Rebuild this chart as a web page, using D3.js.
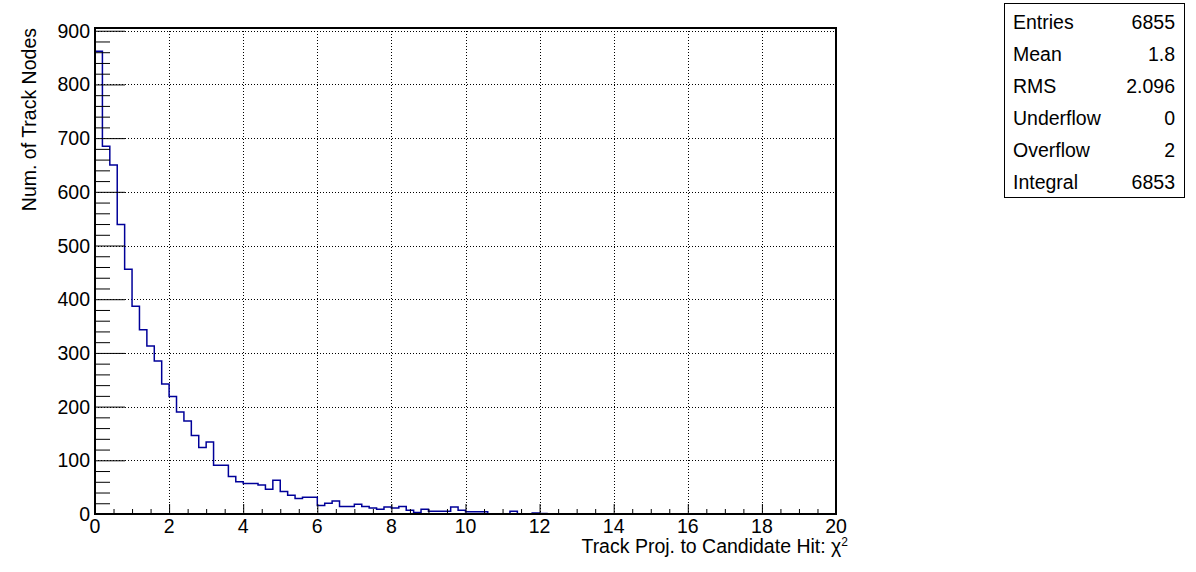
<!DOCTYPE html>
<html>
<head>
<meta charset="utf-8">
<script src="https://cdn.jsdelivr.net/npm/d3@7"></script>
<style>
  body { margin: 0; background: #fff; }
  svg { font-family: "Liberation Sans", Arial, sans-serif; }
</style>
</head>
<body>
<div id="chart"></div>
<script>
// histogram definition: 100 bins of width 0.2 from 0 to 20
const xMin = 0;
const xMax = 20;
const binWidth = 0.2;
const counts = [
  862, 685, 650, 539, 456, 387, 343, 313, 285, 242,
  219, 190, 173, 146, 124, 134, 91, 91, 70, 60,
  57, 57, 54, 46, 63, 42, 35, 29, 31, 31,
  16, 20, 24, 14, 14, 18, 14, 11, 9, 13,
  11, 14, 7, 3, 9, 5, 5, 5, 13, 7,
  4, 4, 4, 0, 0, 0, 5, 0, 0, 2,
  1, 0, 0, 0, 0, 0, 0, 0, 0, 0,
  0, 0, 0, 0, 0, 0, 0, 0, 0, 0,
  0, 0, 0, 0, 0, 0, 0, 0, 0, 0,
  0, 0, 0, 0, 0, 0, 0, 0, 0, 0
];
const xTicks = [0, 2, 4, 6, 8, 10, 12, 14, 16, 18, 20];
const yTicks = [0, 100, 200, 300, 400, 500, 600, 700, 800, 900];
const statsLabels = ['Entries', 'Mean', 'RMS', 'Underflow', 'Overflow', 'Integral'];
const statsValues = ['6855', '1.8', '2.096', '0', '2', '6853'];

const width = 1196;
const height = 572;
// frame of the pad
const frameL = 95, frameR = 836, frameT = 28, frameB = 514;

const svg = d3.select('#chart')
  .append('svg')
  .attr('width', width)
  .attr('height', height);

const x = d3.scaleLinear().domain([xMin, xMax]).range([frameL, frameR]);
const yMax = d3.max(counts) * 1.05; // ROOT adds 5% headroom
const y = d3.scaleLinear().domain([0, yMax]).range([frameB, frameT]);

// dotted grid
const grid = svg.append('g')
  .attr('stroke', '#000')
  .attr('stroke-width', 1)
  .attr('stroke-dasharray', '1,2');
grid.selectAll('line.gx')
  .data(xTicks.slice(1, -1))
  .join('line')
  .attr('x1', (d) => Math.round(x(d)) + 0.5)
  .attr('x2', (d) => Math.round(x(d)) + 0.5)
  .attr('y1', frameT)
  .attr('y2', frameB);
grid.selectAll('line.gy')
  .data(yTicks.slice(1))
  .join('line')
  .attr('x1', frameL)
  .attr('x2', frameR)
  .attr('y1', (d) => Math.round(y(d)) + 0.5)
  .attr('y2', (d) => Math.round(y(d)) + 0.5);

// histogram outline as a step path
const pts = [[x(xMin), y(0)]];
counts.forEach((c, i) => {
  const x0 = xMin + i * binWidth;
  pts.push([x(x0), y(c)]);
  pts.push([x(x0 + binWidth), y(c)]);
});
pts.push([x(xMax), y(0)]);
svg.append('path')
  .attr('d', d3.line()(pts))
  .attr('fill', 'none')
  .attr('stroke', '#000099')
  .attr('stroke-width', 1.5);

// axes: ticks drawn inside the frame, ROOT style
const yAxis = d3.axisLeft(y)
  .tickValues(d3.range(0, 901, 20))
  .tickSize(-15)
  .tickFormat('');
const gy = svg.append('g').attr('transform', `translate(${frameL},0)`).call(yAxis);
gy.selectAll('.tick line')
  .attr('x2', (d) => (d % 100 === 0 ? 30 : 15));
gy.select('.domain').remove();

const xAxis = d3.axisBottom(x)
  .tickValues(d3.range(0, 20.01, 0.5))
  .tickSize(-5)
  .tickFormat('');
const gx = svg.append('g').attr('transform', `translate(0,${frameB})`).call(xAxis);
gx.selectAll('.tick line')
  .attr('y2', (d) => (Math.abs(d % 2) < 1e-6 ? -10 : -5));
gx.select('.domain').remove();
svg.selectAll('.tick line').attr('stroke', '#000').attr('stroke-width', 1);

// tick labels
svg.append('g')
  .selectAll('text')
  .data(yTicks)
  .join('text')
  .attr('x', frameL - 5)
  .attr('y', (d) => y(d) + 7)
  .attr('text-anchor', 'end')
  .attr('font-size', 19.5)
  .text((d) => d);
svg.append('g')
  .selectAll('text')
  .data(xTicks)
  .join('text')
  .attr('x', (d) => x(d))
  .attr('y', 533)
  .attr('text-anchor', 'middle')
  .attr('font-size', 19.5)
  .text((d) => d);

// frame
svg.append('rect')
  .attr('x', frameL)
  .attr('y', frameT)
  .attr('width', frameR - frameL)
  .attr('height', frameB - frameT)
  .attr('fill', 'none')
  .attr('stroke', '#000')
  .attr('stroke-width', 2);

// axis titles
const xt = svg.append('text')
  .attr('x', 848)
  .attr('y', 553)
  .attr('text-anchor', 'end')
  .attr('font-size', 19.5);
xt.append('tspan').text('Track Proj. to Candidate Hit: χ');
xt.append('tspan').attr('font-size', 12).attr('dy', -7).text('2');

svg.append('text')
  .attr('transform', 'translate(36,28) rotate(-90)')
  .attr('text-anchor', 'end')
  .attr('font-size', 19.5)
  .text('Num. of Track Nodes');

// stats box
const stats = svg.append('g');
stats.append('rect')
  .attr('x', 1004.5)
  .attr('y', 3.5)
  .attr('width', 180)
  .attr('height', 194)
  .attr('fill', '#fff')
  .attr('stroke', '#000')
  .attr('stroke-width', 1);
const rowY = d3.scaleLinear().domain([0, statsLabels.length - 1]).range([29, 189]);
stats.selectAll('text.lbl')
  .data(statsLabels)
  .join('text')
  .attr('x', 1013)
  .attr('y', (d, i) => rowY(i))
  .attr('font-size', 19.5)
  .text((d) => d);
stats.selectAll('text.val')
  .data(statsValues)
  .join('text')
  .attr('x', 1175)
  .attr('y', (d, i) => rowY(i))
  .attr('text-anchor', 'end')
  .attr('font-size', 19.5)
  .text((d) => d);
</script>
</body>
</html>
